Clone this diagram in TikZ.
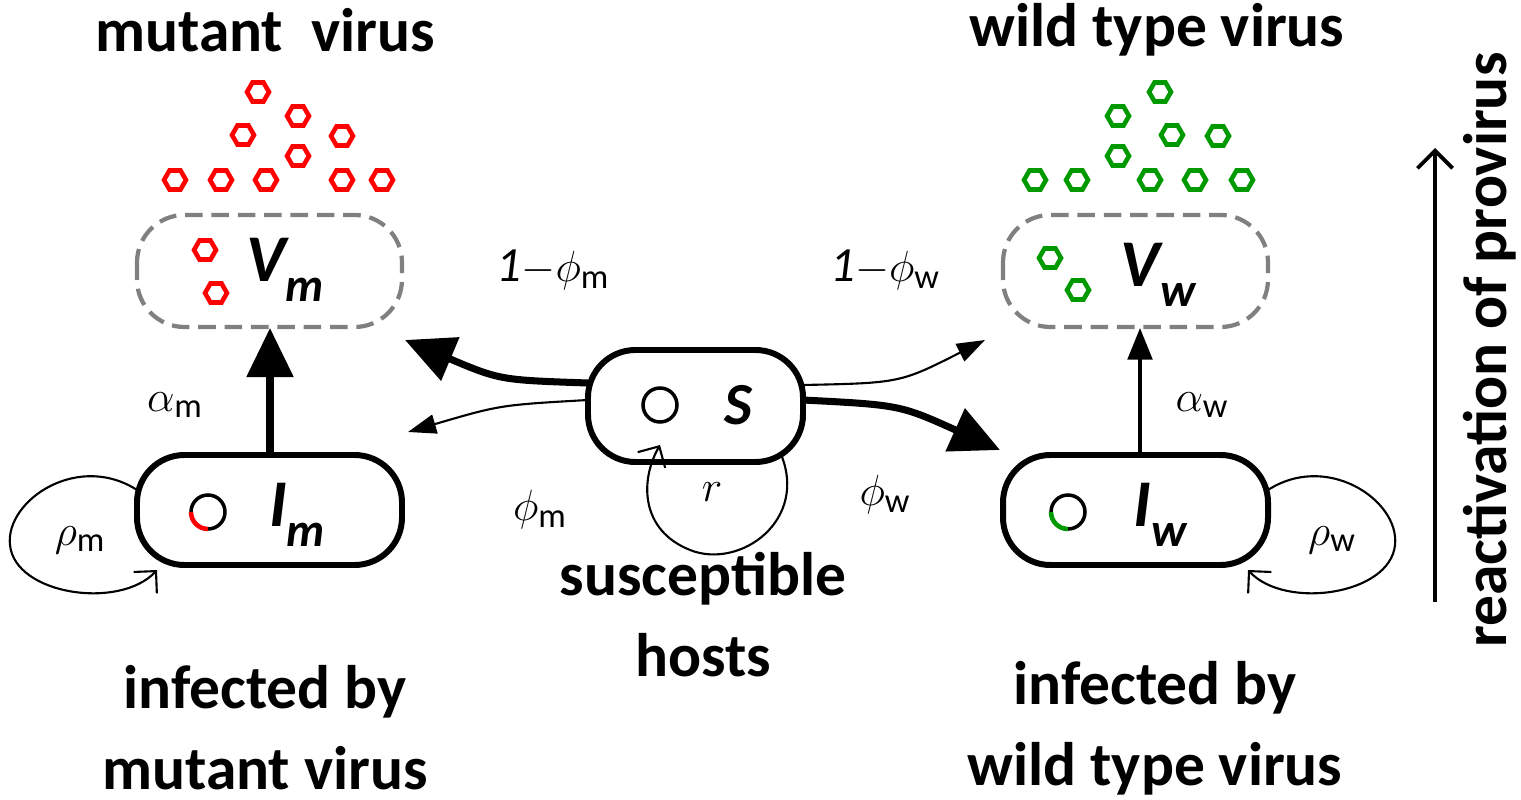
\documentclass[tikz,border=0pt]{standalone}
\usepackage{fontspec}
\setmainfont{Carlito}
\usetikzlibrary{arrows.meta}
\begin{document}
\begin{tikzpicture}[x=0.02cm,y=-0.02cm,
  lbl/.style={font=\fontsize{35}{40}\selectfont\bfseries,align=center},
  box/.style={draw,line width=3.4pt,rounded corners=27pt},
  vbox/.style={draw=gray,line width=2.4pt,dash pattern=on 10pt off 5pt,rounded corners=27pt},
  big/.style={font=\fontsize{38}{42}\selectfont\bfseries\itshape},
  sym/.style={font=\fontsize{28}{32}\selectfont},
  thin/.style={line width=1.2pt,-{Triangle[length=16pt,width=11pt]}},
  thick/.style={line width=4pt,-{Triangle[length=28pt,width=26pt]}}]
\useasboundingbox (0,0) rectangle (1521,800);
\newcommand{\hexa}[3]{\draw[#3,line width=2.6pt] (#1,#2) +(0:11) -- +(60:11) -- +(120:11) -- +(180:11) -- +(240:11) -- +(300:11) -- cycle;}
\newcommand{\bsub}[1]{\raisebox{-0.3em}{\fontsize{27}{30}\selectfont #1}}
% top labels
\node[lbl] (tm) at (265,30) {mutant\ \ virus};
\node[lbl] (tw) at (1157,30) {wild type virus};
% hexagons
\foreach \x/\y in {258/92,298/116,243/135,342/136,298/156,175/180,221/180,266/180,342/180,382/180,205/250,216/293}{\hexa{\x}{\y}{red}}
\foreach \x/\y in {1160/92,1118/116,1172/135,1218/136,1118/156,1035/180,1077/180,1150/180,1195/180,1242/180,1050/258,1078/290}{\hexa{\x}{\y}{green!60!black}}
% boxes
\draw[vbox] (137,215) rectangle (402,327);
\draw[vbox] (1003,215) rectangle (1268,327);
\node[big] (vm) at (285,270) {V\bsub{m}};
\node[big] (vw) at (1158,275) {V\bsub{w}};
\coordinate (vmb) at (270,328); \coordinate (vwb) at (1140,328);
\draw[box] (588,350) rectangle (803,462);
\node[font=\fontsize{34}{38}\selectfont\bfseries\itshape] (s) at (738,405) {S};
\draw[line width=2pt] (660,405) circle (17);
\draw[box] (137,455) rectangle (402,565);
\draw[box] (1003,455) rectangle (1268,565);
\node[big] (im) at (297,515) {I\bsub{m}};
\node[big] (iw) at (1160,515) {I\bsub{w}};
\draw[line width=2pt] (208,512) circle (17);
\draw[red,line width=2.6pt] (208,512) ++(180:17) arc (180:90:17);
\draw[line width=2pt] (1068,512) circle (17);
\draw[green!60!black,line width=2.6pt] (1068,512) ++(180:17) arc (180:90:17);
% arrows
\draw[thick] (270,455) -- (vmb);
\draw[line width=2pt,-{Triangle[length=18pt,width=14pt]}] (1140,455) -- (vwb);
\draw[thick] (588,383) .. controls (500,380) .. (405,340);
\draw[thin] (588,400) .. controls (500,405) .. (408,432);
\draw[thin] (803,385) .. controls (900,383) .. (985,340);
\draw[thick] (803,400) .. controls (900,405) .. (1000,450);
% loops
\draw[line width=1.2pt,-{Straight Barb[length=9pt]}] (140,492) .. controls (80,450) and (5,500) .. (10,545) .. controls (15,595) and (120,610) .. (157,570);
\draw[line width=1.2pt,-{Straight Barb[length=9pt]}] (1265,492) .. controls (1325,450) and (1400,500) .. (1395,545) .. controls (1390,595) and (1285,610) .. (1248,570);
\draw[line width=1.2pt,-{Straight Barb[length=9pt]}] (780,452) .. controls (810,520) and (740,570) .. (690,550) .. controls (640,530) and (640,480) .. (660,445);
% labels
\node[sym] (l1) at (553,270) {\textit{1}$-\phi_{\mathrm{m}}$};
\node[sym] (l2) at (885,270) {\textit{1}$-\phi_{\mathrm{w}}$};
\node[sym] (l3) at (540,510) {$\phi_{\mathrm{m}}$};
\node[sym] (l4) at (885,495) {$\phi_{\mathrm{w}}$};
\node[sym] (l5) at (175,405) {$\alpha_{\mathrm{m}}$};
\node[sym] (l6) at (1202,405) {$\alpha_{\mathrm{w}}$};
\node[sym] (l7) at (80,540) {$\rho_{\mathrm{m}}$};
\node[sym] (l8) at (1332,540) {$\rho_{\mathrm{w}}$};
\node[sym] (l9) at (712,492) {$r$};
% bottom
\node[lbl] (bs) at (703,615) {susceptible\\[6pt]hosts};
\node[lbl] (bm) at (265,728) {infected by\\[6pt]mutant virus};
\node[lbl] (bw) at (1155,728) {infected by\\[6pt]wild type virus};
% right
\coordinate (ra) at (1435,602); \coordinate (rb) at (1435,148);
\draw[line width=2.2pt,-{Straight Barb[length=10pt]}] (ra) -- (rb);
\node[lbl,rotate=90] (rt) at (1490,350) {reactivation of provirus};
\end{tikzpicture}
\end{document}
